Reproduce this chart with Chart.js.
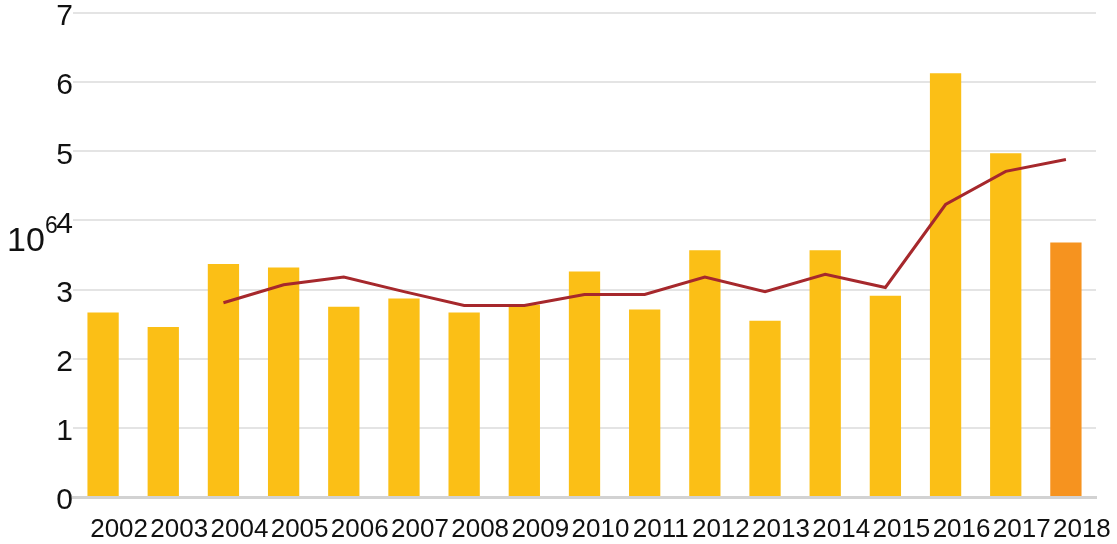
<!DOCTYPE html>
<html>
<head>
<meta charset="utf-8">
<script src="https://cdn.jsdelivr.net/npm/chart.js@4/dist/chart.umd.min.js"></script>
<style>
  html, body { margin: 0; padding: 0; background: #ffffff; overflow: hidden; }
  #wrap { width: 1117px; height: 544px; position: relative; }
</style>
</head>
<body>
<div id="wrap"><canvas id="c" width="1117" height="544"></canvas></div>
<script>
const years = ['2002','2003','2004','2005','2006','2007','2008','2009','2010','2011','2012','2013','2014','2015','2016','2017','2018'];
const annualValues = [2.67, 2.46, 3.37, 3.32, 2.75, 2.87, 2.67, 2.78, 3.26, 2.71, 3.57, 2.55, 3.57, 2.91, 6.13, 4.97, 3.68];
const trendValues = [null, null, 2.81, 3.07, 3.18, 2.97, 2.77, 2.77, 2.93, 2.93, 3.18, 2.97, 3.22, 3.03, 4.23, 4.71, 4.88];
const yTicks = [0, 1, 2, 3, 4, 5, 6, 7];
const unitLabel = ['10', '6'];

const barColors = years.map((y, i) => i === years.length - 1 ? '#F6931F' : '#FBBF16');

const unitPlugin = {
  id: 'unitLabel',
  afterDraw(chart) {
    const ctx = chart.ctx;
    const yScale = chart.scales.y;
    const py = yScale.getPixelForValue(4);
    ctx.save();
    ctx.fillStyle = '#111111';
    ctx.textBaseline = 'alphabetic';
    ctx.textAlign = 'left';
    ctx.font = '34px "Liberation Sans", Arial, sans-serif';
    ctx.fillText(unitLabel[0], 7, py + 31);
    ctx.font = '23px "Liberation Sans", Arial, sans-serif';
    ctx.fillText(unitLabel[1], 45, py + 13);
    ctx.restore();
  }
};

new Chart(document.getElementById('c'), {
  data: {
    labels: years,
    datasets: [
      {
        type: 'line',
        data: trendValues,
        borderColor: '#A6282C',
        borderWidth: 3,
        pointRadius: 0,
        tension: 0,
        fill: false,
        spanGaps: false,
        order: 0
      },
      {
        type: 'bar',
        data: annualValues,
        backgroundColor: barColors,
        borderWidth: 0,
        barPercentage: 0.52,
        categoryPercentage: 1.0,
        order: 1
      }
    ]
  },
  options: {
    responsive: false,
    animation: false,
    devicePixelRatio: 1,
    layout: { padding: { top: 13, right: 21, left: 0, bottom: 0 } },
    plugins: { legend: { display: false }, tooltip: { enabled: false } },
    scales: {
      x: {
        grid: { display: false, drawTicks: false },
        border: { display: true, color: '#D2D2D2', width: 3 },
        ticks: {
          color: '#111111',
          font: { family: '"Liberation Sans", Arial, sans-serif', size: 26 },
          maxRotation: 0,
          minRotation: 0,
          autoSkip: false,
          padding: 17,
          labelOffset: 16
        },
        afterFit(scale) { scale.height = 47; }
      },
      y: {
        min: 0,
        max: 7,
        afterBuildTicks(scale) { scale.ticks = yTicks.map(v => ({ value: v })); },
        grid: { color: '#E4E4E4', lineWidth: 2, drawTicks: false },
        border: { display: false },
        ticks: {
          color: '#111111',
          font: { family: '"Liberation Sans", Arial, sans-serif', size: 30, lineHeight: 0.8 },
          padding: 0,
          labelOffset: 4
        },
        afterFit(scale) { scale.width = 73; }
      }
    }
  },
  plugins: [unitPlugin]
});
</script>
</body>
</html>
